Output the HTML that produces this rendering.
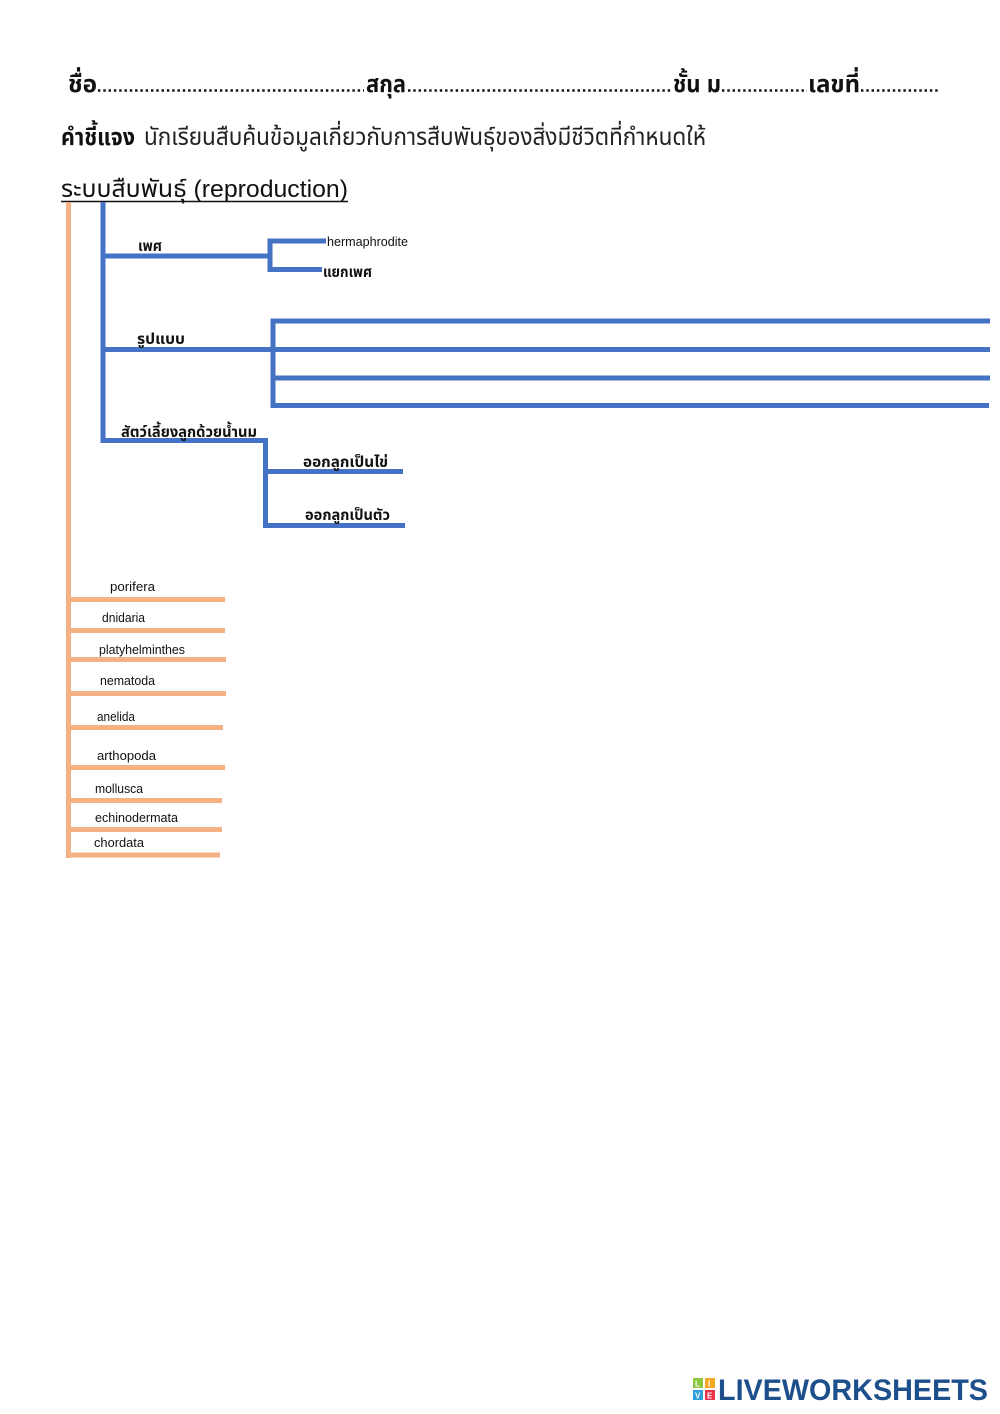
<!DOCTYPE html>
<html>
<head>
<meta charset="utf-8">
<style>
  html,body{margin:0;padding:0;background:#fff;}
  svg{display:block;}
  .th{font-family:"Liberation Sans","Noto Sans Thai","Noto Sans Thai UI","Loma","Garuda","Tlwg Typo","Norasi","DejaVu Sans",sans-serif;}
  .en{font-family:"Liberation Sans","DejaVu Sans",sans-serif;}
</style>
</head>
<body>
<svg width="1000" height="1414" viewBox="0 0 1000 1414" xmlns="http://www.w3.org/2000/svg">
  <rect width="1000" height="1414" fill="#ffffff"/>

  <!-- Header line -->
  <g class="th" font-size="24" font-weight="bold" fill="#111">
    <text x="68" y="92" textLength="29" lengthAdjust="spacingAndGlyphs">ชื่อ</text>
    <text x="366" y="92" textLength="40" lengthAdjust="spacingAndGlyphs">สกุล</text>
    <text x="673" y="92" textLength="48" lengthAdjust="spacingAndGlyphs">ชั้น ม</text>
    <text x="808" y="92" textLength="52" lengthAdjust="spacingAndGlyphs">เลขที่</text>
  </g>
  <g stroke="#111" stroke-width="2.4" stroke-dasharray="2.4 2.9">
    <line x1="98" y1="90.5" x2="364" y2="90.5"/>
    <line x1="408" y1="90.5" x2="671" y2="90.5"/>
    <line x1="722" y1="90.5" x2="807" y2="90.5"/>
    <line x1="861" y1="90.5" x2="939" y2="90.5"/>
  </g>

  <!-- Instruction line -->
  <text class="th" x="61" y="145" font-size="24" font-weight="bold" fill="#111" textLength="74" lengthAdjust="spacingAndGlyphs">คำชี้แจง</text>
  <text class="th" x="144" y="145" font-size="24" fill="#222" textLength="562" lengthAdjust="spacingAndGlyphs">นักเรียนสืบค้นข้อมูลเกี่ยวกับการสืบพันธุ์ของสิ่งมีชีวิตที่กำหนดให้</text>

  <!-- Title -->
  <text class="th" x="61" y="197" font-size="24" fill="#111" textLength="287" lengthAdjust="spacingAndGlyphs">ระบบสืบพันธุ์ (reproduction)</text>
  <line x1="61" y1="201.5" x2="348" y2="201.5" stroke="#111" stroke-width="1.6"/>

  <!-- Orange tree -->
  <g stroke="#F4B183" stroke-width="5" fill="none">
    <line x1="68.5" y1="202" x2="68.5" y2="858"/>
    <line x1="68" y1="599.5" x2="225" y2="599.5"/>
    <line x1="68" y1="630.5" x2="225" y2="630.5"/>
    <line x1="68" y1="659.5" x2="226" y2="659.5"/>
    <line x1="68" y1="693.5" x2="226" y2="693.5"/>
    <line x1="68" y1="727.5" x2="223" y2="727.5"/>
    <line x1="68" y1="767.5" x2="225" y2="767.5"/>
    <line x1="68" y1="800.5" x2="222" y2="800.5"/>
    <line x1="68" y1="829.5" x2="222" y2="829.5"/>
    <line x1="66" y1="855" x2="220" y2="855"/>
  </g>

  <!-- Blue tree -->
  <g stroke="#4472C4" stroke-width="5" fill="none">
    <line x1="103" y1="202" x2="103" y2="443"/>
    <!-- เพศ -->
    <line x1="103" y1="256" x2="270" y2="256"/>
    <line x1="270" y1="238.5" x2="270" y2="272"/>
    <line x1="270" y1="241" x2="326" y2="241"/>
    <line x1="270" y1="269.5" x2="322" y2="269.5"/>
    <!-- รูปแบบ -->
    <line x1="103" y1="349.5" x2="273" y2="349.5"/>
    <line x1="273" y1="318.5" x2="273" y2="408"/>
    <line x1="273" y1="321" x2="990" y2="321"/>
    <line x1="273" y1="349.5" x2="990" y2="349.5"/>
    <line x1="273" y1="378" x2="990" y2="378"/>
    <line x1="273" y1="405.5" x2="989" y2="405.5"/>
    <!-- สัตว์เลี้ยงลูกด้วยน้ำนม -->
    <line x1="100.5" y1="440.5" x2="268" y2="440.5"/>
    <line x1="265.5" y1="438" x2="265.5" y2="528"/>
    <line x1="263" y1="471.5" x2="403" y2="471.5"/>
    <line x1="263" y1="525.5" x2="405" y2="525.5"/>
  </g>

  <!-- Blue tree labels -->
  <g class="th" font-weight="bold" fill="#111" font-size="15">
    <text x="138" y="251" textLength="24" lengthAdjust="spacingAndGlyphs">เพศ</text>
    <text x="323" y="277" textLength="49" lengthAdjust="spacingAndGlyphs">แยกเพศ</text>
    <text x="137" y="344" textLength="48" lengthAdjust="spacingAndGlyphs">รูปแบบ</text>
    <text x="121" y="437" textLength="136" lengthAdjust="spacingAndGlyphs">สัตว์เลี้ยงลูกด้วยน้ำนม</text>
    <text x="303" y="467" textLength="85" lengthAdjust="spacingAndGlyphs">ออกลูกเป็นไข่</text>
    <text x="305" y="520" textLength="85" lengthAdjust="spacingAndGlyphs">ออกลูกเป็นตัว</text>
  </g>
  <text class="en" x="327" y="246" font-size="12.5" fill="#111" textLength="81" lengthAdjust="spacingAndGlyphs">hermaphrodite</text>

  <!-- Orange tree labels -->
  <g class="en" font-size="12.5" fill="#111">
    <text x="110" y="591" textLength="45" lengthAdjust="spacingAndGlyphs">porifera</text>
    <text x="102" y="622" textLength="43" lengthAdjust="spacingAndGlyphs">dnidaria</text>
    <text x="99" y="654" textLength="86" lengthAdjust="spacingAndGlyphs">platyhelminthes</text>
    <text x="100" y="685" textLength="55" lengthAdjust="spacingAndGlyphs">nematoda</text>
    <text x="97" y="721" textLength="38" lengthAdjust="spacingAndGlyphs">anelida</text>
    <text x="97" y="760" textLength="59" lengthAdjust="spacingAndGlyphs">arthopoda</text>
    <text x="95" y="793" textLength="48" lengthAdjust="spacingAndGlyphs">mollusca</text>
    <text x="95" y="822" textLength="83" lengthAdjust="spacingAndGlyphs">echinodermata</text>
    <text x="94" y="847" textLength="50" lengthAdjust="spacingAndGlyphs">chordata</text>
  </g>

  <!-- Logo -->
  <g>
    <rect x="693" y="1378" width="10" height="10" fill="#8cc63f"/>
    <rect x="705" y="1378" width="10" height="10" fill="#f7a823"/>
    <rect x="693" y="1390" width="10" height="10" fill="#2e9fd8"/>
    <rect x="705" y="1390" width="10" height="10" fill="#e8334a"/>
    <text class="en" x="695" y="1386.5" font-size="8" font-weight="bold" fill="#fff">L</text>
    <text class="en" x="708" y="1386.5" font-size="8" font-weight="bold" fill="#fff">I</text>
    <text class="en" x="695" y="1398.5" font-size="8" font-weight="bold" fill="#fff">V</text>
    <text class="en" x="707" y="1398.5" font-size="8" font-weight="bold" fill="#fff">E</text>
    <text class="en" x="718" y="1400" font-size="30" font-weight="bold" fill="#1d4f8c" textLength="270" lengthAdjust="spacingAndGlyphs">LIVEWORKSHEETS</text>
  </g>
</svg>
</body>
</html>
